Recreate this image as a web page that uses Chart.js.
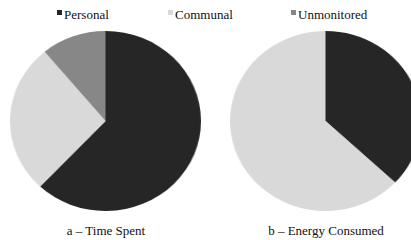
<!DOCTYPE html>
<html>
<head>
<meta charset="utf-8">
<script src="https://cdn.jsdelivr.net/npm/chart.js@4.4.1/dist/chart.umd.min.js"></script>
<style>
  html, body { margin: 0; padding: 0; background: #fff; }
  body { width: 411px; height: 240px; overflow: hidden; position: relative;
         font-family: "Times New Roman", "Liberation Serif", Times, "DejaVu Serif", serif; color: #111; }
  .legend-item { position: absolute; top: 8px; font-size: 13px; line-height: 14px; white-space: nowrap; }
  .legend-item span.box { position: absolute; left: 0; top: 2px; width: 5px; height: 5px; }
  .legend-item span.lbl { position: absolute; left: 7px; top: 0; }
  .pie { position: absolute; top: 31px; width: 180px; height: 180px;
         transform: scaleX(1.061); transform-origin: 0 0; }
  .caption { position: absolute; top: 223px; font-size: 13px; text-align: center; width: 200px; }
</style>
</head>
<body>
<div id="legend"></div>
<div class="pie" style="left:10px"><canvas id="timeChart" width="180" height="180"></canvas></div>
<div class="pie" style="left:230px"><canvas id="energyChart" width="180" height="180"></canvas></div>
<div class="caption" style="left:6px">a – Time Spent</div>
<div class="caption" style="left:226px">b – Energy Consumed</div>

<script>
const categories = ['Personal', 'Communal', 'Unmonitored'];
const timeSpent = [62, 27, 11];
const energyConsumed = [37, 63, 0];
const colors = ['#262626', '#d9d9d9', '#878787'];

document.addEventListener('DOMContentLoaded', function () {

    // legend above both pies
    const legendX = [57, 168, 291];
    const legend = document.getElementById('legend');
    categories.forEach(function (name, i) {
        const item = document.createElement('div');
        item.className = 'legend-item';
        item.style.left = legendX[i] + 'px';
        item.innerHTML = '<span class="box" style="background:' + colors[i] + '"></span>' +
                         '<span class="lbl">' + name + '</span>';
        legend.appendChild(item);
    });

    function makePie(id, values) {
        new Chart(document.getElementById(id), {
            type: 'pie',
            data: {
                labels: categories,
                datasets: [{
                    data: values,
                    backgroundColor: colors,
                    borderWidth: 0
                }]
            },
            options: {
                responsive: false,
                animation: false,
                layout: { padding: 0 },
                plugins: {
                    legend: { display: false },
                    tooltip: { enabled: false }
                }
            }
        });
    }

    makePie('timeChart', timeSpent);
    makePie('energyChart', energyConsumed);
});
</script>
</body>
</html>
